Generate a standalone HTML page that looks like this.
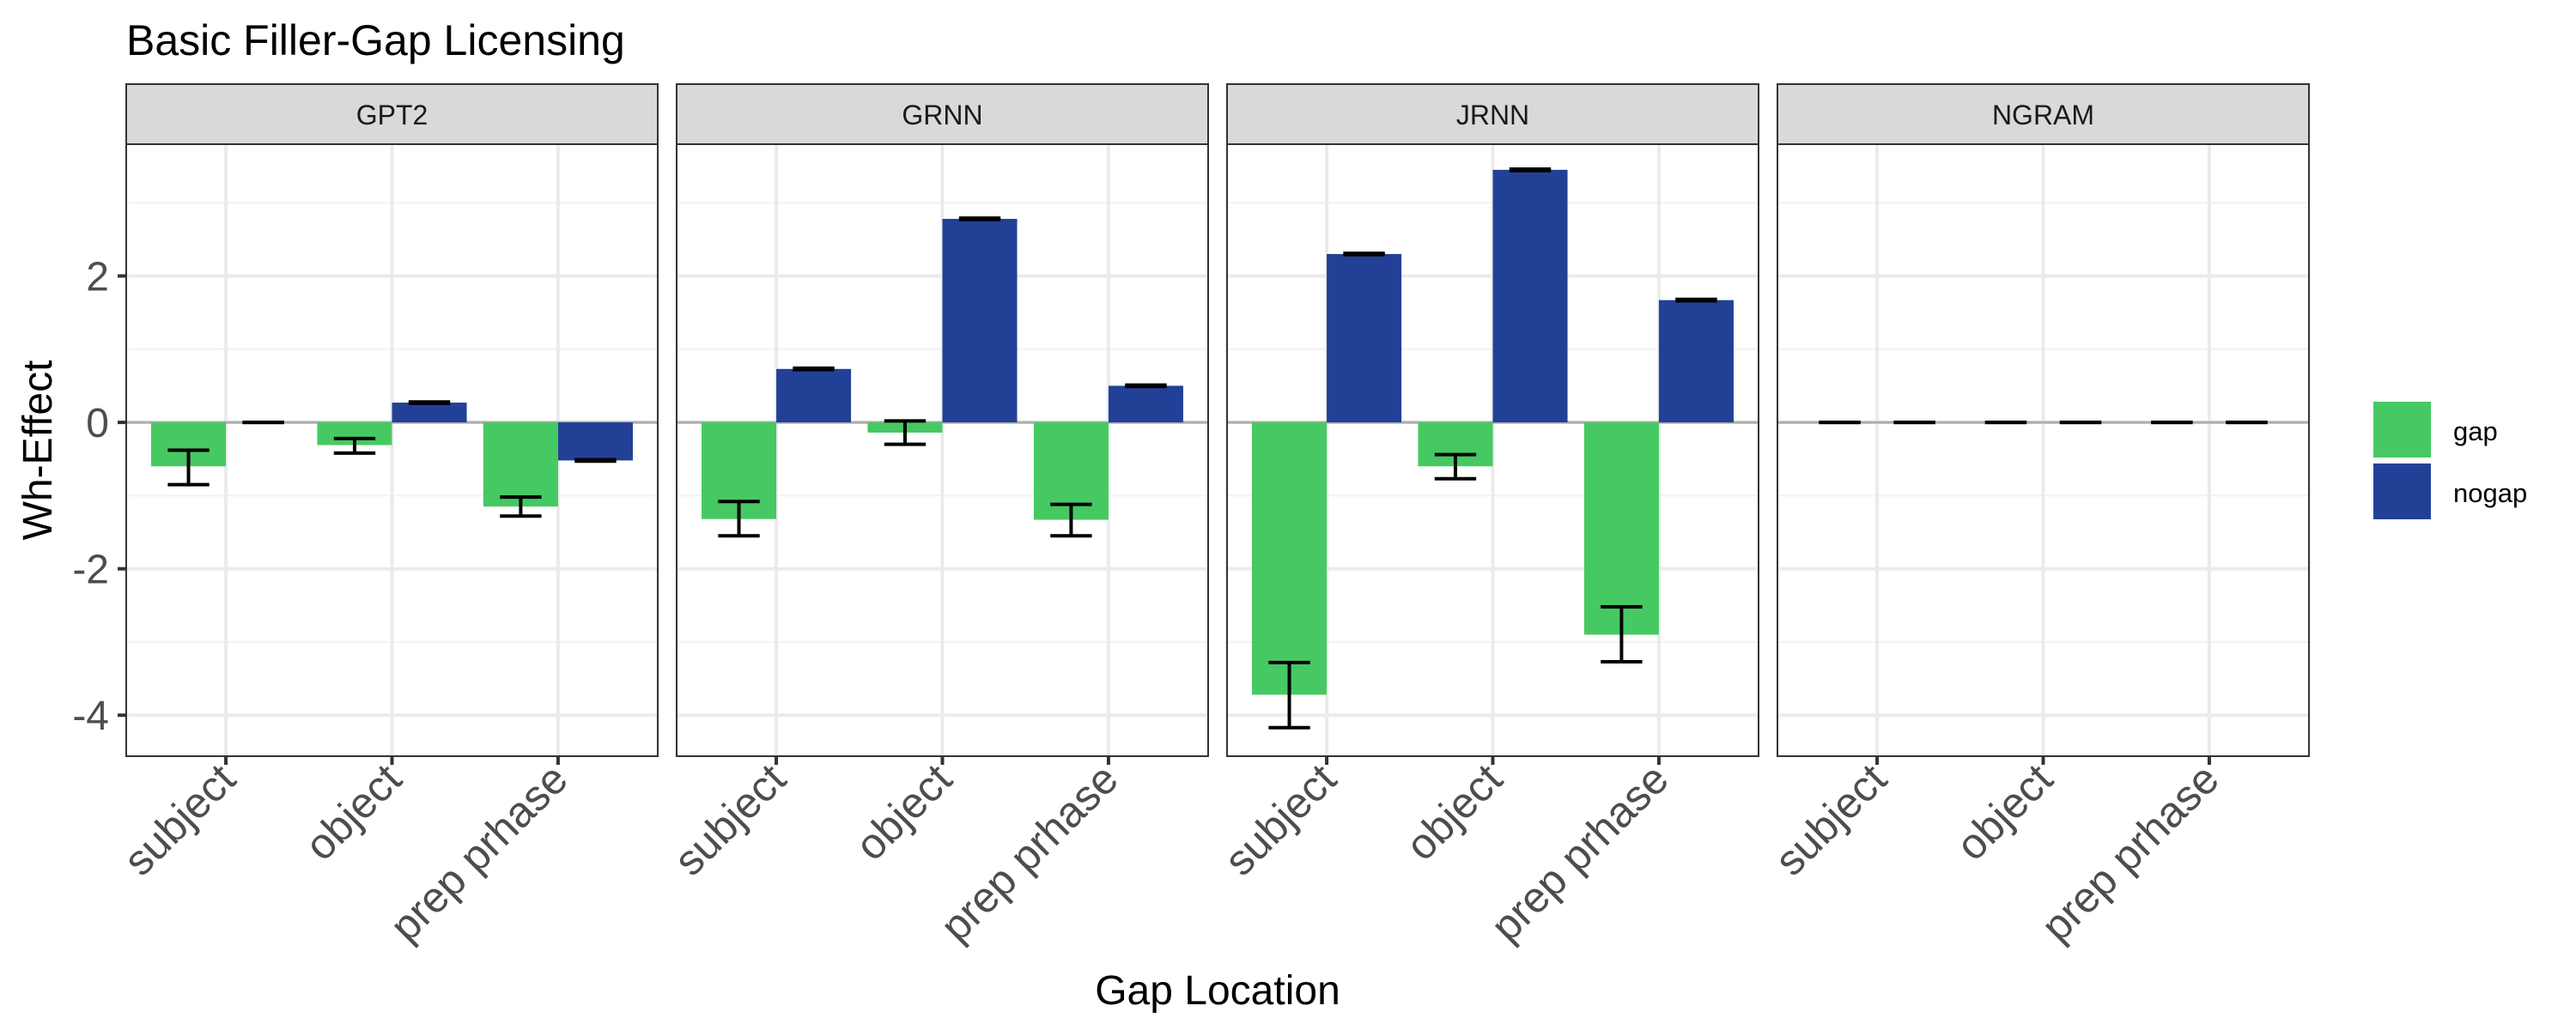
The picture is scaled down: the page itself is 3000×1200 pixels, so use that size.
<!DOCTYPE html>
<html><head><meta charset="utf-8"><style>
html,body{margin:0;padding:0;background:#fff;}
svg{display:block;font-family:"Liberation Sans",Arial,sans-serif;}
</style></head><body>
<svg id="chart" width="3000" height="1200" viewBox="0 0 3000 1200" xmlns="http://www.w3.org/2000/svg"></svg>
<script>
const models = ["GPT2","GRNN","JRNN","NGRAM"];
const categories = ["subject","object","prep prhase"];
const gapValues = [[-0.6,-0.31,-1.15],[-1.32,-0.14,-1.33],[-3.72,-0.6,-2.9],[0,0,0]];
const gapLow = [[-0.85,-0.42,-1.28],[-1.55,-0.3,-1.55],[-4.17,-0.77,-3.27],[0,0,0]];
const gapHigh = [[-0.38,-0.22,-1.02],[-1.08,0.02,-1.12],[-3.28,-0.44,-2.52],[0,0,0]];
const nogapValues = [[0,0.27,-0.52],[0.73,2.78,0.5],[2.3,3.45,1.67],[0,0,0]];
const nogapLow = [[0,0.26,-0.53],[0.72,2.77,0.49],[2.29,3.44,1.66],[0,0,0]];
const nogapHigh = [[0,0.28,-0.51],[0.74,2.79,0.51],[2.31,3.46,1.68],[0,0,0]];
const yTicks = [-4,-2,0,2];
const yMinor = [-3,-1,1,3];

const NS="http://www.w3.org/2000/svg";
const svg=document.getElementById('chart');
function mk(tag,attrs,parent){const e=document.createElementNS(NS,tag);for(const k in attrs)e.setAttribute(k,attrs[k]);(parent||svg).appendChild(e);return e;}
const panelW=619, gapW=22, left0=147, pTop=168, pBottom=881, stripTop=98;
const yMin=-4.56, yMax=3.8;
function yScale(v){return pTop+(yMax-v)/(yMax-yMin)*(pBottom-pTop);}
function xScale(p,i){return left0+p*(panelW+gapW)+(i+1-0.4)/3.2*panelW;}
const unit=panelW/3.2;

const titleEl=mk('text',{x:147,y:64,'font-size':50,fill:'#000'});titleEl.textContent="Basic Filler-Gap Licensing";



models.forEach((m,p)=>{
  const L=left0+p*(panelW+gapW);
  const g=mk('g',{});
  
  
  mk('rect',{x:L,y:pTop,width:panelW,height:pBottom-pTop,fill:'#fff'},g);
  yMinor.forEach(v=>mk('line',{x1:L,x2:L+panelW,y1:yScale(v),y2:yScale(v),stroke:'#f2f2f2','stroke-width':2},g));
  yTicks.forEach(v=>mk('line',{x1:L,x2:L+panelW,y1:yScale(v),y2:yScale(v),stroke:'#ebebeb','stroke-width':4},g));
  categories.forEach((c,i)=>mk('line',{x1:xScale(p,i),x2:xScale(p,i),y1:pTop,y2:pBottom,stroke:'#ebebeb','stroke-width':4},g));
  mk('line',{x1:L,x2:L+panelW,y1:yScale(0),y2:yScale(0),stroke:'#adadad','stroke-width':3},g);
  categories.forEach((c,i)=>{
    const cx=xScale(p,i);
    [[gapValues,gapLow,gapHigh,'#46c962',-1,'gap'],[nogapValues,nogapLow,nogapHigh,'#224196',0,'nogap']].forEach(([vals,lo,hi,col,off,nm])=>{
      const v=vals[p][i];
      const x=cx+off*0.45*unit;
      const r=mk('rect',{x:x,y:Math.min(yScale(v),yScale(0)),width:0.45*unit,height:Math.abs(yScale(v)-yScale(0)),fill:col},g);
      
      
      const bc=x+0.225*unit, hw=0.125*unit;
      const e=mk('g',{stroke:'#000','stroke-width':4},g);
      
      
      mk('line',{x1:bc,x2:bc,y1:yScale(lo[p][i]),y2:yScale(hi[p][i])},e);
      mk('line',{x1:bc-hw,x2:bc+hw,y1:yScale(lo[p][i]),y2:yScale(lo[p][i])},e);
      mk('line',{x1:bc-hw,x2:bc+hw,y1:yScale(hi[p][i]),y2:yScale(hi[p][i])},e);
    });
    mk('line',{x1:cx,x2:cx,y1:pBottom,y2:pBottom+10,stroke:'#333','stroke-width':4},g);
    const lb=mk('text',{x:0,y:0,'font-size':50,fill:'#4d4d4d','text-anchor':'end',transform:`translate(${cx+14},${pBottom+30}) rotate(-45)`},g);
    lb.textContent=c;
    
    
  });
  mk('rect',{x:L,y:pTop,width:panelW,height:pBottom-pTop,fill:'none',stroke:'#333','stroke-width':2},g);
  const s=mk('rect',{x:L,y:stripTop,width:panelW,height:pTop-stripTop,fill:'#d9d9d9',stroke:'#333','stroke-width':2},g);
  
  
  const st=mk('text',{x:L+panelW/2,y:145,'font-size':32,fill:'#1a1a1a','text-anchor':'middle'},g);
  st.textContent=m;
  
  
});
yTicks.forEach(v=>{
  mk('line',{x1:137,x2:147,y1:yScale(v),y2:yScale(v),stroke:'#333','stroke-width':4});
  const tl=mk('text',{x:127,y:yScale(v)+17,'font-size':48,fill:'#4d4d4d','text-anchor':'end'});
  tl.textContent=v;
  
  
});
const yt=mk('text',{x:0,y:0,'font-size':48,fill:'#000','text-anchor':'middle',transform:`translate(60,${(pTop+pBottom)/2}) rotate(-90)`});
yt.textContent="Wh-Effect";


const xt=mk('text',{x:1418,y:1170,'font-size':48,fill:'#000','text-anchor':'middle'});
xt.textContent="Gap Location";


[['gap','#46c962',468],['nogap','#224196',540]].forEach(([n,c,y])=>{
  const lg=mk('g',{});
  
  
  mk('rect',{x:2764,y:y,width:67,height:65,fill:c},lg);
  const tx=mk('text',{x:2857,y:y+45,'font-size':31,fill:'#000'},lg);tx.textContent=n;
});
</script>
</body></html>
